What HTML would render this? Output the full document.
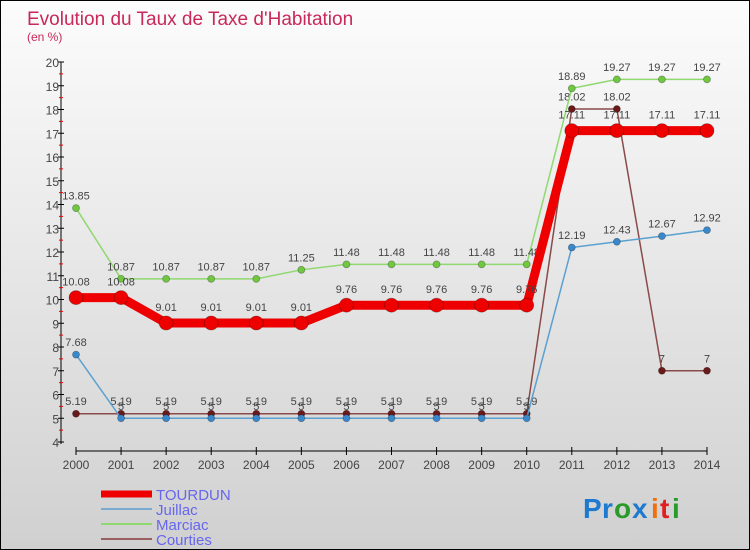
<!DOCTYPE html>
<html><head><meta charset="utf-8"><style>
body{margin:0;}
#wrap{position:relative;width:750px;height:550px;box-sizing:border-box;border:1px solid #000;background:linear-gradient(#fcfcfc,#d0d0d0);font-family:"Liberation Sans",sans-serif;overflow:hidden}
svg{position:absolute;left:0;top:0}
</style></head><body>
<div id="wrap">
<svg id="chart" width="750" height="550">
<text x="26" y="24" font-size="19" fill="#c8285a">Evolution du Taux de Taxe d'Habitation</text>
<text x="26" y="40" font-size="12" fill="#c8285a">(en %)</text>
<g id="axes"></g><g id="series"></g><g id="legend"></g>
<g font-size="28" font-weight="bold">
<text x="582" y="517" fill="#1e7ad0">P</text><text x="601" y="517" fill="#1e7ad0">r</text>
<text x="613" y="517" fill="#2a9a2a">o</text><text x="631" y="517" fill="#1e7ad0">x</text>
<text x="650" y="517" fill="#f07010">i</text><text x="659" y="517" fill="#e02020">t</text><text x="671" y="517" fill="#2a9a2a">i</text>
</g>
</svg>
</div>
<script>
const years=[2000,2001,2002,2003,2004,2005,2006,2007,2008,2009,2010,2011,2012,2013,2014];
const yTicks=[4,5,6,7,8,9,10,11,12,13,14,15,16,17,18,19,20];
const tourdun=[10.08,10.08,9.01,9.01,9.01,9.01,9.76,9.76,9.76,9.76,9.76,17.11,17.11,17.11,17.11];
const juillac=[7.68,5,5,5,5,5,5,5,5,5,5,12.19,12.43,12.67,12.92];
const marciac=[13.85,10.87,10.87,10.87,10.87,11.25,11.48,11.48,11.48,11.48,11.48,18.89,19.27,19.27,19.27];
const courties=[5.19,5.19,5.19,5.19,5.19,5.19,5.19,5.19,5.19,5.19,5.19,18.02,18.02,7,7];
const NS="http://www.w3.org/2000/svg";
const X0=75,X1=706,Y0=441,Y1=61,YMIN=4,YMAX=20;
const xs=i=>X0+(X1-X0)*i/(years.length-1);
const ys=v=>Y0-(Y0-Y1)*(v-YMIN)/(YMAX-YMIN);
function mk(t,a,p){const e=document.createElementNS(NS,t);for(const k in a)e.setAttribute(k,a[k]);p.appendChild(e);return e;}
const ax=document.getElementById('axes');
let yl=mk('line',{x1:60,y1:Y1,x2:60,y2:Y0+2,stroke:'#000'},ax);


yTicks.forEach(v=>{
  mk('line',{x1:57,x2:63,y1:ys(v),y2:ys(v),stroke:'#000'},ax);
  if(v<20)mk('line',{x1:58,x2:62,y1:ys(v+0.5),y2:ys(v+0.5),stroke:'#e00'},ax);
  const t=mk('text',{x:58,y:ys(v)+5,'text-anchor':'end','font-size':12,fill:'#444'},ax);t.textContent=v;
  
  
});
let xl=mk('line',{x1:X0,y1:450,x2:X1,y2:450,stroke:'#000'},ax);


years.forEach((y,i)=>{
  mk('line',{x1:xs(i),x2:xs(i),y1:446,y2:454,stroke:'#000'},ax);
  const t=mk('text',{x:xs(i),y:468,'text-anchor':'middle','font-size':12,fill:'#444'},ax);t.textContent=y;
  
  
});
const sg=document.getElementById('series');
function series(data,name,color,w,r,ptFill){
  const g=mk('g',{},sg);
  
  
  mk('polyline',{points:data.map((v,i)=>xs(i)+','+ys(v)).join(' '),fill:'none',stroke:color,'stroke-width':w,'stroke-linejoin':'round'},g);
  data.forEach((v,i)=>{
    const c=mk('circle',{cx:xs(i),cy:ys(v),r:r,fill:ptFill,stroke:'rgba(0,0,0,0.3)','stroke-width':0.8},g);
    
    
    const t=mk('text',{x:xs(i),y:ys(v)-(r+5),'text-anchor':'middle','font-size':11,fill:'#444'},g);
    t.textContent=String(v);
    
    
  });
}
series(courties,'courties','#8a4a4a',1.5,3.5,'#6a1a1a');
series(juillac,'juillac','#5aa0d0',1.5,3.5,'#3a88cc');
series(marciac,'marciac','#90d870',1.5,3.5,'#70c840');
series(tourdun,'tourdun','#ee0000',9,7,'#ee0000');
const lg=document.getElementById('legend');
[['TOURDUN','#ee0000',7],['Juillac','#7aaad0',2],['Marciac','#90d870',2],['Courties','#9a6060',2]].forEach((d,i)=>{
  const y=493+i*15;
  const g=mk('g',{},lg);
  
  
  mk('line',{x1:100,x2:151,y1:y,y2:y,stroke:d[1],'stroke-width':d[2]},g);
  const t=mk('text',{x:155,y:y+6,'font-size':15,fill:'#6666ee'},g);t.textContent=d[0];
});
</script>
</body></html>
